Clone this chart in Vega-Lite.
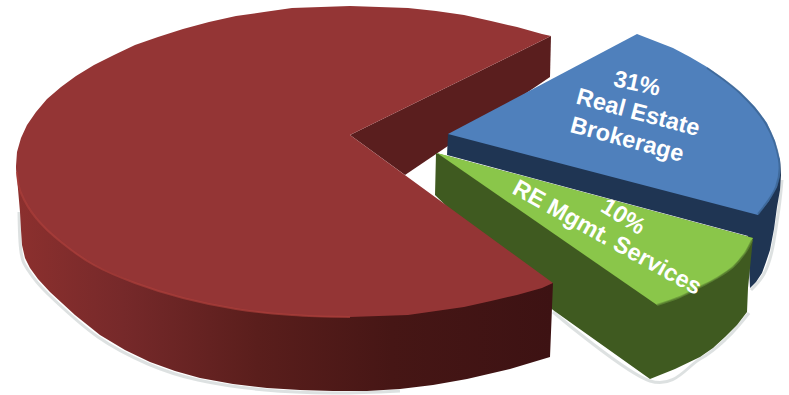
{
  "$schema": "https://vega.github.io/schema/vega-lite/v6.json",
  "width": 789,
  "height": 395,
  "padding": 0,
  "autosize": "none",
  "background": "white",
  "view": {"stroke": null},
  "datasets": {
    "outlines": [
      {"part":"red-notch","n":1,"x":350,"y":135},{"part":"red-notch","n":2,"x":551,"y":36},
      {"part":"red-notch","n":3,"x":550,"y":77},{"part":"red-notch","n":4,"x":405,"y":175},

      {"part":"blue-wall","n":1,"x":448,"y":134},{"part":"blue-wall","n":2,"x":770,"y":140},
      {"part":"blue-wall","n":3,"x":780,"y":160},{"part":"blue-wall","n":4,"x":781,"y":175},
      {"part":"blue-wall","n":5,"x":780,"y":190},{"part":"blue-wall","n":6,"x":777,"y":207},
      {"part":"blue-wall","n":7,"x":774,"y":229},{"part":"blue-wall","n":8,"x":770,"y":250},
      {"part":"blue-wall","n":9,"x":766,"y":262},{"part":"blue-wall","n":10,"x":762,"y":273},
      {"part":"blue-wall","n":11,"x":756,"y":282},{"part":"blue-wall","n":12,"x":750,"y":288},
      {"part":"blue-wall","n":13,"x":748,"y":236},{"part":"blue-wall","n":14,"x":447,"y":155},

      {"part":"blue-top","n":1,"x":448,"y":134},{"part":"blue-top","n":2,"x":637,"y":34},
      {"part":"blue-top","n":3,"x":655,"y":41},{"part":"blue-top","n":4,"x":673,"y":48},
      {"part":"blue-top","n":5,"x":690,"y":57},{"part":"blue-top","n":6,"x":707,"y":67},
      {"part":"blue-top","n":7,"x":724,"y":79},{"part":"blue-top","n":8,"x":740,"y":92},
      {"part":"blue-top","n":9,"x":755,"y":107},{"part":"blue-top","n":10,"x":767,"y":123},
      {"part":"blue-top","n":11,"x":775,"y":141},{"part":"blue-top","n":12,"x":780,"y":160},
      {"part":"blue-top","n":13,"x":780,"y":175},{"part":"blue-top","n":14,"x":777,"y":187},
      {"part":"blue-top","n":15,"x":769,"y":201},{"part":"blue-top","n":16,"x":758,"y":215},

      {"part":"blue-rim","n":1,"x":707,"y":68},{"part":"blue-rim","n":2,"x":740,"y":93},
      {"part":"blue-rim","n":3,"x":766,"y":124},{"part":"blue-rim","n":4,"x":779,"y":160},
      {"part":"blue-rim","n":5,"x":776,"y":187},{"part":"blue-rim","n":6,"x":758,"y":214},

      {"part":"green-wall","n":1,"x":436,"y":153},{"part":"green-wall","n":2,"x":753,"y":238},
      {"part":"green-wall","n":3,"x":748,"y":288},{"part":"green-wall","n":4,"x":747,"y":312},
      {"part":"green-wall","n":5,"x":737,"y":325},{"part":"green-wall","n":6,"x":725,"y":337},
      {"part":"green-wall","n":7,"x":713,"y":348},{"part":"green-wall","n":8,"x":700,"y":357},
      {"part":"green-wall","n":9,"x":675,"y":369},{"part":"green-wall","n":10,"x":650,"y":379},
      {"part":"green-wall","n":11,"x":553,"y":310},{"part":"green-wall","n":12,"x":435,"y":195},

      {"part":"green-top","n":1,"x":437,"y":153},{"part":"green-top","n":2,"x":753,"y":238},
      {"part":"green-top","n":3,"x":745,"y":253},{"part":"green-top","n":4,"x":733,"y":267},
      {"part":"green-top","n":5,"x":717,"y":278},{"part":"green-top","n":6,"x":700,"y":287},
      {"part":"green-top","n":7,"x":680,"y":297},{"part":"green-top","n":8,"x":657,"y":305},

      {"part":"green-rim","n":1,"x":752,"y":240},{"part":"green-rim","n":2,"x":745,"y":253},
      {"part":"green-rim","n":3,"x":733,"y":267},{"part":"green-rim","n":4,"x":717,"y":278},
      {"part":"green-rim","n":5,"x":700,"y":287},{"part":"green-rim","n":6,"x":680,"y":297},
      {"part":"green-rim","n":7,"x":657,"y":305},

      {"part":"red-wall","n":1,"x":16,"y":166},{"part":"red-wall","n":2,"x":553,"y":283},
      {"part":"red-wall","n":3,"x":550,"y":357},{"part":"red-wall","n":4,"x":510,"y":369},
      {"part":"red-wall","n":5,"x":467,"y":379},{"part":"red-wall","n":6,"x":433,"y":385},
      {"part":"red-wall","n":7,"x":400,"y":389},{"part":"red-wall","n":8,"x":367,"y":391},
      {"part":"red-wall","n":9,"x":333,"y":391},{"part":"red-wall","n":10,"x":300,"y":390},
      {"part":"red-wall","n":11,"x":267,"y":388},{"part":"red-wall","n":12,"x":233,"y":384},
      {"part":"red-wall","n":13,"x":200,"y":378},{"part":"red-wall","n":14,"x":175,"y":371},
      {"part":"red-wall","n":15,"x":150,"y":362},{"part":"red-wall","n":16,"x":125,"y":350},
      {"part":"red-wall","n":17,"x":100,"y":335},{"part":"red-wall","n":18,"x":75,"y":315},
      {"part":"red-wall","n":19,"x":50,"y":292},{"part":"red-wall","n":20,"x":38,"y":279},
      {"part":"red-wall","n":21,"x":30,"y":268},{"part":"red-wall","n":22,"x":25,"y":258},
      {"part":"red-wall","n":23,"x":22,"y":245},{"part":"red-wall","n":24,"x":21,"y":230},
      {"part":"red-wall","n":25,"x":20,"y":212},

      {"part":"red-top","n":1,"x":350,"y":135},{"part":"red-top","n":2,"x":551,"y":36},
      {"part":"red-top","n":3,"x":542,"y":34},{"part":"red-top","n":4,"x":517,"y":27},
      {"part":"red-top","n":5,"x":491,"y":21},{"part":"red-top","n":6,"x":464,"y":15},
      {"part":"red-top","n":7,"x":436,"y":11},{"part":"red-top","n":8,"x":408,"y":8},
      {"part":"red-top","n":9,"x":379,"y":7},{"part":"red-top","n":10,"x":350,"y":6},
      {"part":"red-top","n":11,"x":321,"y":7},{"part":"red-top","n":12,"x":292,"y":8},
      {"part":"red-top","n":13,"x":264,"y":12},{"part":"red-top","n":14,"x":236,"y":16},
      {"part":"red-top","n":15,"x":209,"y":22},{"part":"red-top","n":16,"x":183,"y":29},
      {"part":"red-top","n":17,"x":158,"y":37},{"part":"red-top","n":18,"x":135,"y":45},
      {"part":"red-top","n":19,"x":114,"y":55},{"part":"red-top","n":20,"x":94,"y":65},
      {"part":"red-top","n":21,"x":76,"y":76},{"part":"red-top","n":22,"x":61,"y":87},
      {"part":"red-top","n":23,"x":47,"y":99},{"part":"red-top","n":24,"x":36,"y":112},
      {"part":"red-top","n":25,"x":27,"y":125},{"part":"red-top","n":26,"x":21,"y":138},
      {"part":"red-top","n":27,"x":17,"y":152},{"part":"red-top","n":28,"x":16,"y":166},
      {"part":"red-top","n":29,"x":17,"y":179},{"part":"red-top","n":30,"x":21,"y":193},
      {"part":"red-top","n":31,"x":27,"y":205},{"part":"red-top","n":32,"x":36,"y":218},
      {"part":"red-top","n":33,"x":47,"y":231},{"part":"red-top","n":34,"x":61,"y":242},
      {"part":"red-top","n":35,"x":76,"y":254},{"part":"red-top","n":36,"x":94,"y":265},
      {"part":"red-top","n":37,"x":114,"y":274},{"part":"red-top","n":38,"x":135,"y":283},
      {"part":"red-top","n":39,"x":158,"y":291},{"part":"red-top","n":40,"x":183,"y":298},
      {"part":"red-top","n":41,"x":209,"y":304},{"part":"red-top","n":42,"x":236,"y":309},
      {"part":"red-top","n":43,"x":264,"y":313},{"part":"red-top","n":44,"x":292,"y":315},
      {"part":"red-top","n":45,"x":321,"y":317},{"part":"red-top","n":46,"x":350,"y":317},
      {"part":"red-top","n":47,"x":379,"y":316},{"part":"red-top","n":48,"x":408,"y":315},
      {"part":"red-top","n":49,"x":436,"y":311},{"part":"red-top","n":50,"x":464,"y":307},
      {"part":"red-top","n":51,"x":491,"y":301},{"part":"red-top","n":52,"x":517,"y":295},
      {"part":"red-top","n":53,"x":542,"y":288},{"part":"red-top","n":54,"x":553,"y":283},

      {"part":"red-rim","n":1,"x":17,"y":172},{"part":"red-rim","n":2,"x":21,"y":193},
      {"part":"red-rim","n":3,"x":36,"y":218},{"part":"red-rim","n":4,"x":61,"y":242},
      {"part":"red-rim","n":5,"x":94,"y":265},{"part":"red-rim","n":6,"x":135,"y":283},
      {"part":"red-rim","n":7,"x":183,"y":298},{"part":"red-rim","n":8,"x":236,"y":309},
      {"part":"red-rim","n":9,"x":292,"y":315},{"part":"red-rim","n":10,"x":350,"y":317},

      {"part":"shadow-red","n":1,"x":19,"y":212},{"part":"shadow-red","n":2,"x":21,"y":252},
      {"part":"shadow-red","n":3,"x":28,"y":270},{"part":"shadow-red","n":4,"x":48,"y":294},
      {"part":"shadow-red","n":5,"x":98,"y":337},{"part":"shadow-red","n":6,"x":148,"y":364},
      {"part":"shadow-red","n":7,"x":198,"y":380},{"part":"shadow-red","n":8,"x":265,"y":390},
      {"part":"shadow-red","n":9,"x":333,"y":393},{"part":"shadow-red","n":10,"x":400,"y":391},
      {"part":"shadow-green","n":1,"x":553,"y":312},{"part":"shadow-green","n":2,"x":650,"y":381},
      {"part":"shadow-green","n":3,"x":700,"y":359},{"part":"shadow-green","n":4,"x":727,"y":338},
      {"part":"shadow-green","n":5,"x":749,"y":313},
      {"part":"shadow-blue","n":1,"x":782,"y":180},{"part":"shadow-blue","n":2,"x":779,"y":208},
      {"part":"shadow-blue","n":3,"x":772,"y":251},{"part":"shadow-blue","n":4,"x":764,"y":274},
      {"part":"shadow-blue","n":5,"x":751,"y":290}
    ],
    "labels": [
      {"text":"31%","x":637,"y":84,"angle":12},
      {"text":"Real Estate","x":638,"y":113,"angle":15},
      {"text":"Brokerage","x":627,"y":140,"angle":15},
      {"text":"10%","x":623,"y":217,"angle":32},
      {"text":"RE Mgmt. Services","x":607,"y":238,"angle":29}
    ]
  },
  "encoding": {
    "x": {"field":"x","type":"quantitative","axis":null,"scale":{"domain":[0,789],"nice":false,"zero":false}},
    "y": {"field":"y","type":"quantitative","axis":null,"scale":{"domain":[395,0],"nice":false,"zero":false}}
  },
  "data": {"name":"outlines"},
  "layer": [
    {
      "transform":[{"filter":"indexof(datum.part,'shadow')==0"}],
      "mark":{"type":"line","stroke":"#8f9a9c","strokeWidth":3,"opacity":0.3,"interpolate":"cardinal"},
      "encoding":{"detail":{"field":"part"},"order":{"field":"n","type":"quantitative"}}
    },
    {
      "transform":[{"filter":"datum.part=='red-notch'"}],
      "mark":{"type":"line","fill":"#5a1e1e","stroke":null,"interpolate":"linear-closed"},
      "encoding":{"order":{"field":"n","type":"quantitative"}}
    },
    {
      "transform":[{"filter":"datum.part=='blue-wall'"}],
      "mark":{"type":"line","fill":"#1f3553","stroke":null,"interpolate":"linear-closed"},
      "encoding":{"order":{"field":"n","type":"quantitative"}}
    },
    {
      "transform":[{"filter":"datum.part=='blue-top'"}],
      "mark":{"type":"line","fill":"#4f80bc","stroke":null,"interpolate":"linear-closed"},
      "encoding":{"order":{"field":"n","type":"quantitative"}}
    },
    {
      "transform":[{"filter":"datum.part=='blue-rim'"}],
      "mark":{"type":"line","stroke":"#39618f","strokeWidth":2,"opacity":0.7,"interpolate":"cardinal"},
      "encoding":{"order":{"field":"n","type":"quantitative"}}
    },
    {
      "transform":[{"filter":"datum.part=='green-wall'"}],
      "mark":{"type":"line","fill":"#3f5a20","stroke":null,"interpolate":"linear-closed"},
      "encoding":{"order":{"field":"n","type":"quantitative"}}
    },
    {
      "transform":[{"filter":"datum.part=='green-top'"}],
      "mark":{"type":"line","fill":"#8ac64a","stroke":null,"interpolate":"linear-closed"},
      "encoding":{"order":{"field":"n","type":"quantitative"}}
    },
    {
      "transform":[{"filter":"datum.part=='green-rim'"}],
      "mark":{"type":"line","stroke":"#648f38","strokeWidth":2,"opacity":0.7,"interpolate":"cardinal"},
      "encoding":{"order":{"field":"n","type":"quantitative"}}
    },
    {
      "transform":[{"filter":"datum.part=='red-wall'"}],
      "mark":{"type":"line","stroke":null,"interpolate":"linear-closed",
        "fill":{"gradient":"linear","x1":0,"y1":0,"x2":1,"y2":0,"stops":[
          {"offset":0,"color":"#8c302e"},
          {"offset":0.2,"color":"#76292a"},
          {"offset":0.45,"color":"#5a1e1c"},
          {"offset":0.7,"color":"#461615"},
          {"offset":1,"color":"#3d1213"}
        ]}},
      "encoding":{"order":{"field":"n","type":"quantitative"}}
    },
    {
      "transform":[{"filter":"datum.part=='red-top'"}],
      "mark":{"type":"line","fill":"#943535","stroke":null,"interpolate":"linear-closed"},
      "encoding":{"order":{"field":"n","type":"quantitative"}}
    },
    {
      "transform":[{"filter":"datum.part=='red-rim'"}],
      "mark":{"type":"line","stroke":"#ab3e3a","strokeWidth":2,"opacity":0.7,"interpolate":"cardinal"},
      "encoding":{"order":{"field":"n","type":"quantitative"}}
    },
    {
      "data":{"name":"labels"},
      "mark":{"type":"text","font":"Liberation Sans","fontWeight":"bold","fontSize":23.5,"color":"white","align":"center","baseline":"middle"},
      "encoding":{
        "text":{"field":"text"},
        "angle":{"field":"angle","type":"quantitative","scale":null}
      }
    }
  ]
}
